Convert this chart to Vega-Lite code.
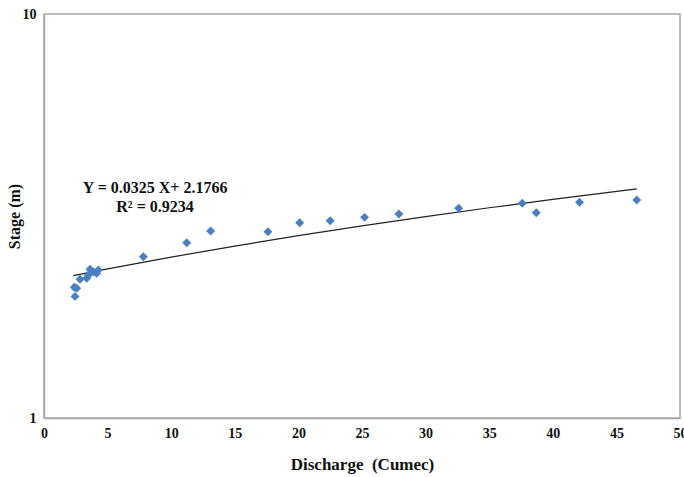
{
  "$schema": "https://vega.github.io/schema/vega-lite/v6.json",
  "autosize": "none",
  "width": 636,
  "height": 404,
  "padding": {"left": 44, "top": 14, "right": 4, "bottom": 59},
  "background": "white",
  "config": {
    "view": {"stroke": "#a6a6a6", "strokeWidth": 1.5},
    "font": "Liberation Serif"
  },
  "datasets": {
    "obs": [
      {"q": 2.44, "h": 2.0},
      {"q": 2.38, "h": 2.106},
      {"q": 2.57, "h": 2.094},
      {"q": 2.83, "h": 2.204},
      {"q": 3.36, "h": 2.217},
      {"q": 3.48, "h": 2.259},
      {"q": 3.62, "h": 2.334},
      {"q": 3.88, "h": 2.3},
      {"q": 4.14, "h": 2.28},
      {"q": 4.27, "h": 2.324},
      {"q": 7.81, "h": 2.507},
      {"q": 11.22, "h": 2.716},
      {"q": 13.1, "h": 2.903},
      {"q": 17.6, "h": 2.892},
      {"q": 20.1, "h": 3.044},
      {"q": 22.5, "h": 3.078},
      {"q": 25.2, "h": 3.138},
      {"q": 27.9, "h": 3.198},
      {"q": 32.6, "h": 3.304},
      {"q": 37.6, "h": 3.4},
      {"q": 38.7, "h": 3.223},
      {"q": 42.1, "h": 3.419},
      {"q": 46.6, "h": 3.464}
    ],
    "trend": [
      {"q": 2.3, "h": 2.2514},
      {"q": 5, "h": 2.3391},
      {"q": 10, "h": 2.5016},
      {"q": 15, "h": 2.6641},
      {"q": 20, "h": 2.8266},
      {"q": 25, "h": 2.9891},
      {"q": 30, "h": 3.1516},
      {"q": 35, "h": 3.3141},
      {"q": 40, "h": 3.4766},
      {"q": 46.6, "h": 3.6911}
    ],
    "notes": [
      {"q": 8.73, "h": 3.72, "t": "Y = 0.0325 X+ 2.1766"},
      {"q": 8.73, "h": 3.33, "t": "R² = 0.9234"}
    ]
  },
  "encoding": {
    "x": {
      "field": "q", "type": "quantitative",
      "scale": {"domain": [0, 50], "nice": false, "zero": false},
      "axis": {
        "title": "Discharge\u00a0\u00a0(Cumec)",
        "values": [0, 5, 10, 15, 20, 25, 30, 35, 40, 45, 50],
        "grid": false, "ticks": false, "domainColor": "#a6a6a6", "domainWidth": 1.5,
        "labelFont": "Liberation Serif", "labelFontWeight": "bold", "labelFontSize": 14, "labelColor": "#111",
        "labelPadding": 8, "labelFlush": false,
        "titleFont": "Liberation Serif", "titleFontWeight": "bold", "titleFontSize": 17, "titleColor": "#111",
        "titlePadding": 16
      }
    },
    "y": {
      "field": "h", "type": "quantitative",
      "scale": {"type": "log", "domain": [1, 10], "nice": false},
      "axis": {
        "title": "Stage (m)",
        "values": [1, 10], "format": "d",
        "grid": false, "ticks": false, "domainColor": "#a6a6a6", "domainWidth": 1.5,
        "labelFont": "Liberation Serif", "labelFontWeight": "bold", "labelFontSize": 14, "labelColor": "#111",
        "labelPadding": 8,
        "titleFont": "Liberation Serif", "titleFontWeight": "bold", "titleFontSize": 16, "titleColor": "#111",
        "titlePadding": 0
      }
    }
  },
  "layer": [
    {
      "data": {"name": "trend"},
      "mark": {"type": "line", "color": "#222", "strokeWidth": 1.2, "interpolate": "monotone"},
      "encoding": {}
    },
    {
      "data": {"name": "obs"},
      "mark": {"type": "point", "shape": "diamond", "filled": true, "size": 80, "color": "#4a7fc1", "opacity": 1}
    },
    {
      "data": {"name": "notes"},
      "mark": {"type": "text", "font": "Liberation Serif", "fontWeight": "bold", "fontSize": 16, "color": "#111", "align": "center", "baseline": "middle"},
      "encoding": {"text": {"field": "t"}}
    }
  ]
}
